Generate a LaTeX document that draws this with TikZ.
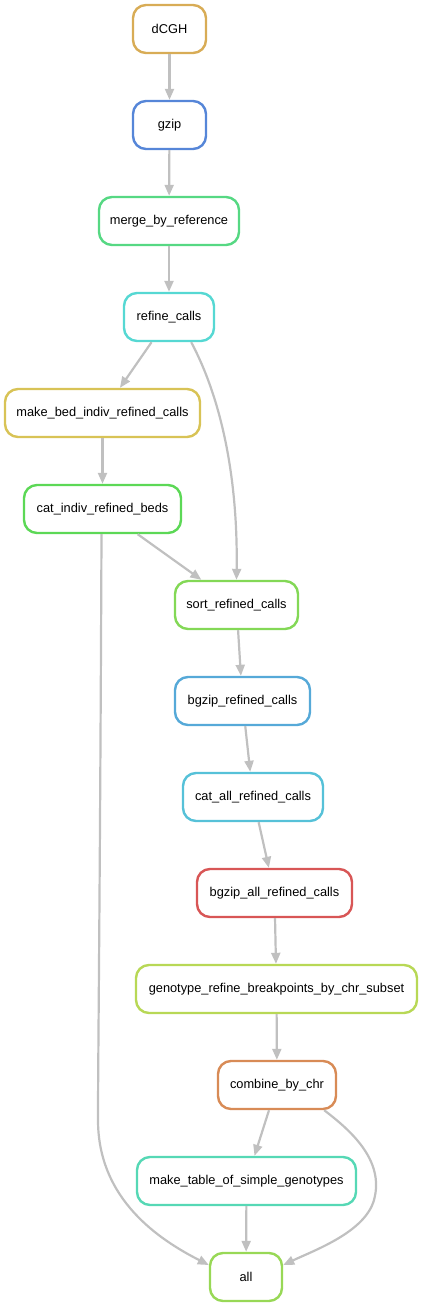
\documentclass[tikz,border=0pt]{standalone}
\usepackage{fontspec}
\setmainfont{Liberation Sans}
\usetikzlibrary{arrows.meta}
\definecolor{cdcgh}{HTML}{D8AC56}
\definecolor{cgzip}{HTML}{5686D8}
\definecolor{cmerge}{HTML}{56D883}
\definecolor{crefine}{HTML}{56D8D3}
\definecolor{cmakebed}{HTML}{D8C356}
\definecolor{ccatindiv}{HTML}{5CD856}
\definecolor{csort}{HTML}{83D856}
\definecolor{cbgzip}{HTML}{56A9D8}
\definecolor{ccatall}{HTML}{56C1D8}
\definecolor{cbgzipall}{HTML}{D85656}
\definecolor{cgeno}{HTML}{B8D856}
\definecolor{ccombine}{HTML}{D88B56}
\definecolor{ctable}{HTML}{56D8B5}
\definecolor{call}{HTML}{98D856}
\definecolor{edgegray}{HTML}{C0C0C0}
\begin{document}
\begin{tikzpicture}[x=1pt,y=-1pt,
  rule/.style={draw=#1, line width=2.4pt, rounded corners=13pt, fill=white,
    minimum height=48pt, inner sep=0pt, font=\fontsize{12.8}{15}\selectfont},
  edge/.style={draw=edgegray, line width=2.2pt, -{Triangle[length=11pt,width=9pt]}}]
\useasboundingbox (0,0) rectangle (423,1307);
\node[rule=cdcgh, minimum width=73pt] (dcgh) at (169.5,29) {dCGH};
\node[rule=cgzip, minimum width=73pt] (gzip) at (169.5,125) {gzip};
\node[rule=cmerge, minimum width=140pt] (merge) at (169,221) {merge\_by\_reference};
\node[rule=crefine, minimum width=90pt] (refine) at (169,317) {refine\_calls};
\node[rule=cmakebed, minimum width=195pt] (makebed) at (102.5,413) {make\_bed\_indiv\_refined\_calls};
\node[rule=ccatindiv, minimum width=157pt] (catindiv) at (102.5,509) {cat\_indiv\_refined\_beds};
\node[rule=csort, minimum width=123pt] (sort) at (236.5,605) {sort\_refined\_calls};
\node[rule=cbgzip, minimum width=135pt] (bgzip) at (242.5,701) {bgzip\_refined\_calls};
\node[rule=ccatall, minimum width=140pt] (catall) at (253,797) {cat\_all\_refined\_calls};
\node[rule=cbgzipall, minimum width=155pt] (bgzipall) at (274.5,893) {bgzip\_all\_refined\_calls};
\node[rule=cgeno, minimum width=281pt] (geno) at (276.5,989) {genotype\_refine\_breakpoints\_by\_chr\_subset};
\node[rule=ccombine, minimum width=118pt] (combine) at (277,1085) {combine\_by\_chr};
\node[rule=ctable, minimum width=219pt] (table) at (246.5,1181) {make\_table\_of\_simple\_genotypes};
\node[rule=call, minimum width=72pt] (all) at (246,1277) {all};

\draw[edge] (dcgh) -- (gzip);
\draw[edge] (gzip) -- (merge);
\draw[edge] (merge) -- (refine);
\draw[edge] (refine) -- (makebed);
\draw[edge] (refine.south east) ++(-24pt,0pt) coordinate (rs)
  (rs) .. controls (222,400) and (238,480) .. (sort.north);
\draw[edge] (makebed) -- (catindiv);
\draw[edge] (catindiv) -- (sort);
\draw[edge] ([xshift=-1pt]catindiv.south) .. controls (100,900) and (98,1060) .. (98,1120)
  .. controls (98,1200) and (160,1240) .. ([yshift=12pt]all.west);
\draw[edge] (sort) -- (bgzip);
\draw[edge] (bgzip) -- (catall);
\draw[edge] (catall) -- (bgzipall);
\draw[edge] (bgzipall) -- (geno);
\draw[edge] (geno) -- (combine);
\draw[edge] (combine) -- (table);
\draw[edge] (table) -- (all);
\draw[edge] ([xshift=-13pt]combine.south east) .. controls (350,1130) and (385,1160) .. (374,1200)
  .. controls (365,1232) and (315,1250) .. ([yshift=12pt]all.east);
\end{tikzpicture}
\end{document}
